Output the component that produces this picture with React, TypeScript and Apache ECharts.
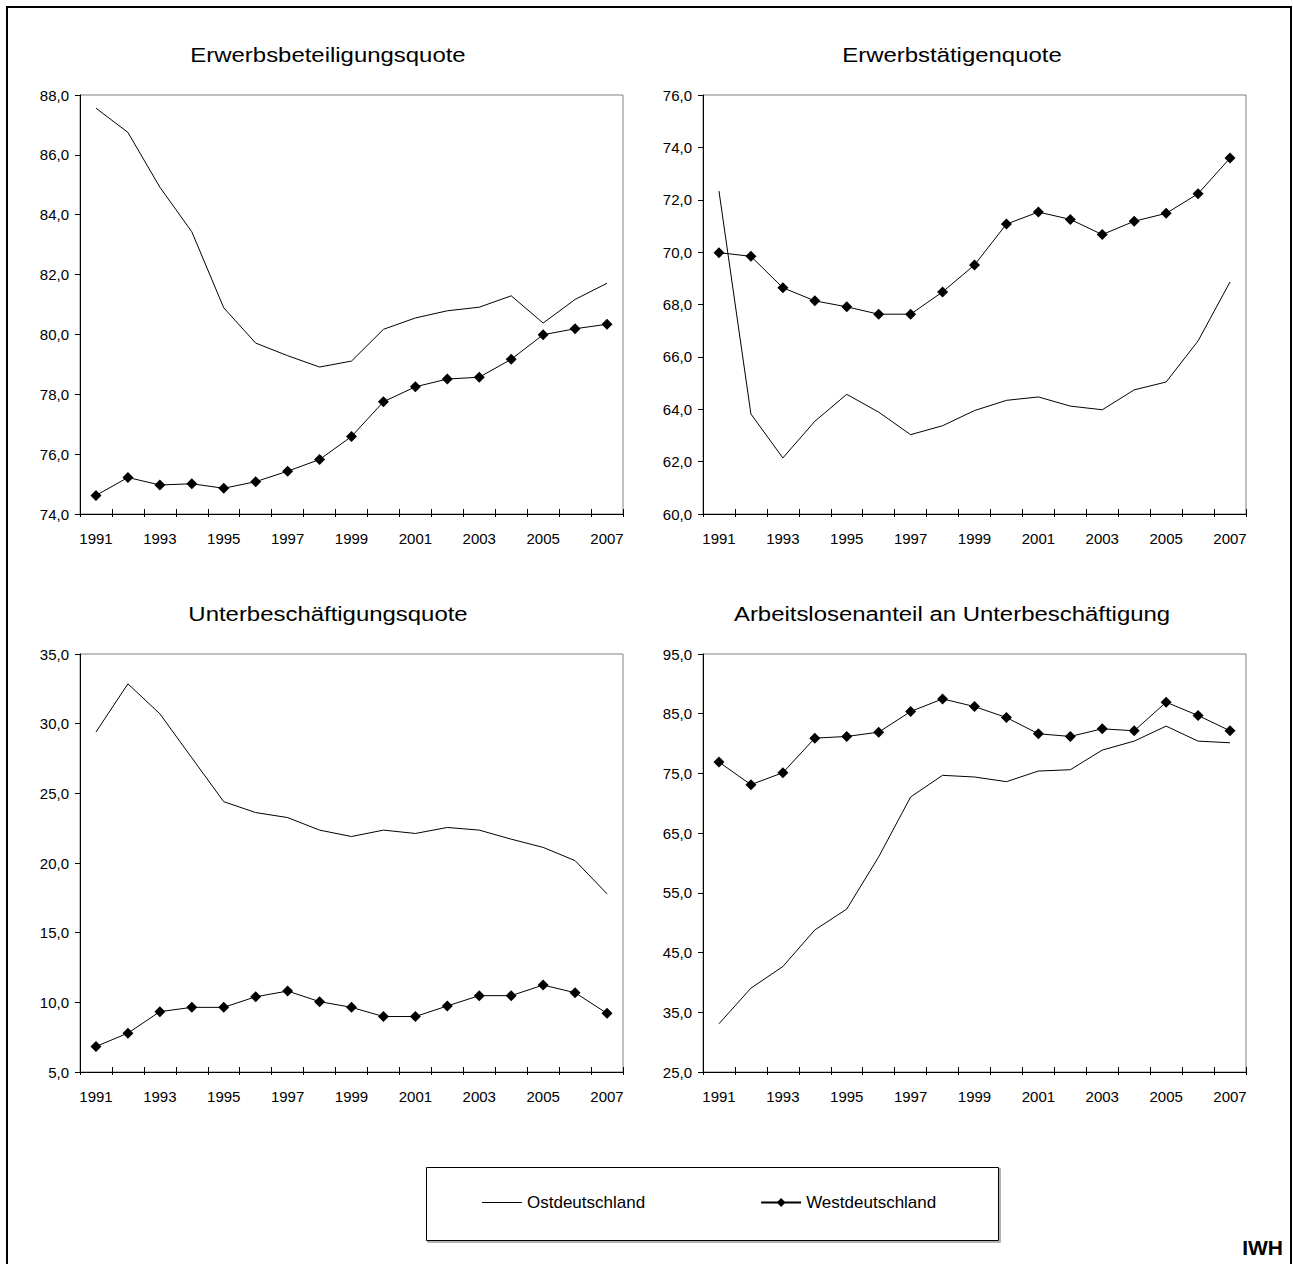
import React, { useEffect, useRef } from "react";
import * as echarts from "echarts";

const years = ["1991", "1992", "1993", "1994", "1995", "1996", "1997", "1998", "1999", "2000", "2001", "2002", "2003", "2004", "2005", "2006", "2007"];

const ostLabel = "Ostdeutschland";
const westLabel = "Westdeutschland";

// Erwerbsbeteiligungsquote
const p1Ost = [87.56, 86.75, 84.92, 83.43, 80.89, 79.71, 79.29, 78.91, 79.11, 80.17, 80.55, 80.79, 80.91, 81.29, 80.38, 81.17, 81.71];
const p1West = [74.62, 75.22, 74.97, 75.01, 74.86, 75.08, 75.43, 75.82, 76.59, 77.75, 78.25, 78.51, 78.57, 79.17, 79.99, 80.19, 80.34];
const p1Ticks = [74, 76, 78, 80, 82, 84, 86, 88];

// Erwerbstätigenquote
const p2Ost = [72.33, 63.82, 62.14, 63.54, 64.57, 63.89, 63.03, 63.37, 63.95, 64.34, 64.47, 64.12, 63.98, 64.74, 65.04, 66.61, 68.86];
const p2West = [69.98, 69.84, 68.64, 68.14, 67.91, 67.63, 67.63, 68.48, 69.51, 71.07, 71.53, 71.25, 70.67, 71.18, 71.48, 72.23, 73.59];
const p2Ticks = [60, 62, 64, 66, 68, 70, 72, 74, 76];

// Unterbeschäftigungsquote
const p3Ost = [29.4, 32.86, 30.71, 27.55, 24.4, 23.62, 23.26, 22.36, 21.9, 22.36, 22.12, 22.55, 22.36, 21.71, 21.12, 20.17, 17.79];
const p3West = [6.83, 7.79, 9.33, 9.64, 9.64, 10.4, 10.81, 10.05, 9.64, 8.98, 8.98, 9.74, 10.48, 10.48, 11.24, 10.69, 9.21];
const p3Ticks = [5, 10, 15, 20, 25, 30, 35];

// Arbeitslosenanteil an Unterbeschäftigung
const p4Ost = [33.08, 39.04, 42.66, 48.78, 52.29, 61.03, 71.06, 74.68, 74.4, 73.62, 75.4, 75.62, 78.91, 80.41, 82.92, 80.41, 80.13];
const p4West = [76.9, 73.12, 75.12, 80.91, 81.19, 81.91, 85.37, 87.48, 86.2, 84.36, 81.64, 81.19, 82.47, 82.14, 86.93, 84.7, 82.14];
const p4Ticks = [25, 35, 45, 55, 65, 75, 85, 95];

const titles = [
  "Erwerbsbeteiligungsquote",
  "Erwerbstätigenquote",
  "Unterbeschäftigungsquote",
  "Arbeitslosenanteil an Unterbeschäftigung",
];

const FONT = "'Liberation Sans', Arial, Helvetica, sans-serif";

const fmt = (v: number) => v.toFixed(1).replace(".", ",");

export default function App() {
  const ref = useRef<HTMLDivElement>(null);

  useEffect(() => {
    document.body.style.margin = "0";
    if (!ref.current) return;
    const chart = echarts.init(ref.current, null, { renderer: "svg" });

    const panels = [
      { ost: p1Ost, west: p1West, ticks: p1Ticks, left: 80, top: 95, width: 543, height: 419, tx: 328, ty: 55 },
      { ost: p2Ost, west: p2West, ticks: p2Ticks, left: 703, top: 95, width: 543, height: 419, tx: 952, ty: 55 },
      { ost: p3Ost, west: p3West, ticks: p3Ticks, left: 80, top: 654, width: 543, height: 418, tx: 328, ty: 614 },
      { ost: p4Ost, west: p4West, ticks: p4Ticks, left: 703, top: 654, width: 543, height: 418, tx: 952, ty: 614 },
    ];

    const grid: any[] = [];
    const xAxis: any[] = [];
    const yAxis: any[] = [];
    const series: any[] = [];
    const graphic: any[] = [];

    panels.forEach((p, i) => {
      grid.push({
        left: p.left,
        top: p.top,
        width: p.width,
        height: p.height,
        show: true,
        borderColor: "#808080",
        borderWidth: 1,
        containLabel: false,
      });
      xAxis.push({
        type: "category",
        gridIndex: i,
        position: "bottom",
        data: years,
        boundaryGap: true,
        axisLine: { show: true, lineStyle: { color: "#000", width: 1 } },
        axisTick: { show: true, interval: 0, length: 3, lineStyle: { color: "#000" } },
        axisLabel: { interval: 1, margin: 17, fontSize: 15, color: "#000", fontFamily: FONT },
        splitLine: { show: false },
      });
      xAxis.push({
        type: "category",
        gridIndex: i,
        position: "bottom",
        data: years,
        boundaryGap: true,
        axisLine: { show: false },
        axisTick: { show: true, inside: true, interval: 0, length: 5, lineStyle: { color: "#000" } },
        axisLabel: { show: false },
        splitLine: { show: false },
      });
      const tMin = p.ticks[0];
      const tMax = p.ticks[p.ticks.length - 1];
      yAxis.push({
        type: "value",
        gridIndex: i,
        min: tMin,
        max: tMax,
        axisLine: { show: true, lineStyle: { color: "#000", width: 1 } },
        axisTick: { show: true, length: 5, lineStyle: { color: "#000" }, customValues: p.ticks },
        axisLabel: {
          formatter: (v: number) => fmt(v),
          fontSize: 15,
          color: "#000",
          margin: 11,
          fontFamily: FONT,
          customValues: p.ticks,
        },
        splitLine: { show: false },
      });
      series.push({
        type: "line",
        name: ostLabel,
        xAxisIndex: i * 2,
        yAxisIndex: i,
        data: p.ost,
        symbol: "none",
        lineStyle: { color: "#000", width: 1 },
        itemStyle: { color: "#000" },
        z: 2,
      });
      series.push({
        type: "line",
        name: westLabel,
        xAxisIndex: i * 2,
        yAxisIndex: i,
        data: p.west,
        symbol: "diamond",
        symbolSize: 11,
        showAllSymbol: true,
        lineStyle: { color: "#000", width: 1 },
        itemStyle: { color: "#000" },
        z: 3,
      });
      graphic.push({
        type: "text",
        x: p.tx,
        y: p.ty,
        scaleX: 1.14,
        style: {
          text: titles[i],
          fontSize: 21,
          fontFamily: FONT,
          fill: "#000",
          textAlign: "center",
          textVerticalAlign: "middle",
        },
      });
    });

    graphic.push({
      type: "rect",
      shape: { x: 7, y: 7, width: 1284, height: 1300 },
      style: { fill: "none", stroke: "#000", lineWidth: 2 },
      silent: true,
    });
    graphic.push({
      type: "rect",
      shape: { x: 428, y: 1169, width: 572, height: 73 },
      style: { fill: "none", stroke: "#9a9a9a", lineWidth: 1.5 },
      silent: true,
    });
    graphic.push({
      type: "rect",
      shape: { x: 426.5, y: 1167.5, width: 572, height: 73 },
      style: { fill: "#fff", stroke: "#000", lineWidth: 1 },
      silent: true,
    });
    graphic.push({
      type: "text",
      x: 1283,
      y: 1247,
      style: {
        text: "IWH",
        fontSize: 21,
        fontWeight: "bold",
        fontFamily: FONT,
        fill: "#000",
        textAlign: "right",
        textVerticalAlign: "middle",
      },
    });

    chart.setOption({
      animation: false,
      backgroundColor: "#fff",
      grid,
      xAxis,
      yAxis,
      series,
      graphic,
      legend: {
        data: [
          { name: ostLabel, icon: "path://M0,0L40,0L40,1L0,1Z" },
          { name: westLabel },
        ],
        left: 482,
        top: 1194,
        padding: 0,
        itemWidth: 40,
        itemHeight: 11,
        itemGap: 115,
        z: 10,
        textStyle: { fontSize: 17, color: "#000", fontFamily: FONT },
      },
    });

    return () => chart.dispose();
  }, []);

  return (
    <div
      ref={ref}
      style={{ position: "absolute", left: 0, top: 0, width: 1293, height: 1264 }}
    />
  );
}
